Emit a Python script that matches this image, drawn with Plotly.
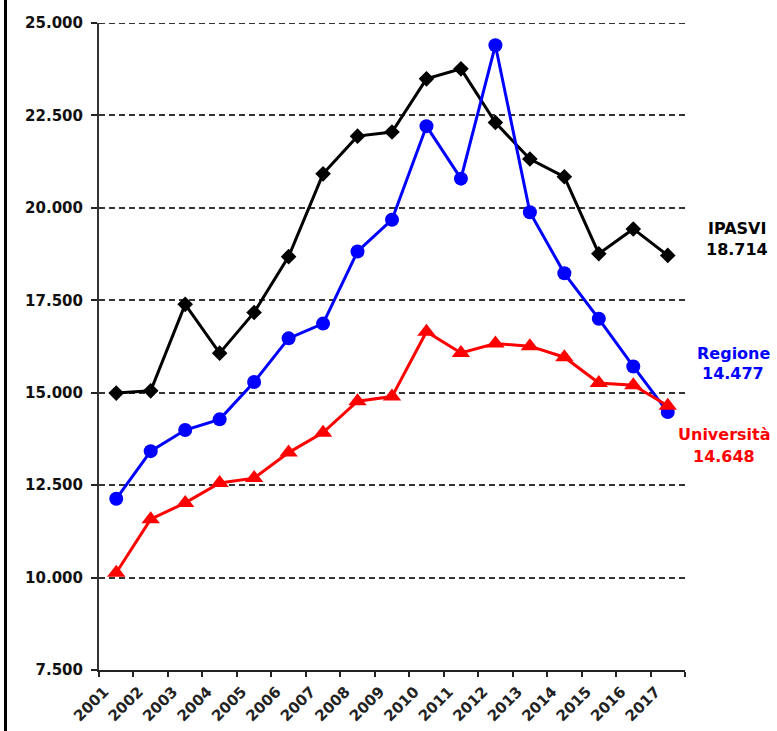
import plotly.graph_objects as go

years = [str(y) for y in range(2001, 2018)]
ipasvi = [14990, 15050, 17390, 16070, 17170, 18680, 20920, 21940, 22050, 23490,
          23760, 22310, 21320, 20840, 18760, 19430, 18714]
regione = [12130, 13420, 13990, 14280, 15290, 16470, 16870, 18820, 19680, 22210,
           20790, 24400, 19880, 18230, 17000, 15710, 14477]
universita = [10130, 11580, 12020, 12560, 12690, 13380, 13920, 14770, 14895, 16650,
              16075, 16330, 16260, 15960, 15265, 15200, 14648]

y_ticks = [7500, 10000, 12500, 15000, 17500, 20000, 22500, 25000]
y_tick_text = ["7.500", "10.000", "12.500", "15.000", "17.500", "20.000", "22.500", "25.000"]

end_labels = [
    ("IPASVI", "18.714", "#000000"),
    ("Regione", "14.477", "#0000FF"),
    ("Università", "14.648", "#FF0000"),
]

# the page body margin is removed below, so the figure starts at (0, 0)
W, H = 777, 731
L, R, T, B = 99, 92, 23, 61
pw, ph = W - L - R, H - T - B

def px_x(x):
    return (x - L) / pw

def px_y(y):
    return (H - B - y) / ph

fig = go.Figure()
fig.add_trace(go.Scatter(x=years, y=ipasvi, mode="lines+markers", name="IPASVI",
                         line=dict(color="#000000", width=3),
                         marker=dict(symbol="diamond", size=12, color="#000000")))
fig.add_trace(go.Scatter(x=years, y=regione, mode="lines+markers", name="Regione",
                         line=dict(color="#0000FF", width=3),
                         marker=dict(symbol="circle", size=14, color="#0000FF")))
fig.add_trace(go.Scatter(x=years, y=universita, mode="lines+markers", name="Università",
                         line=dict(color="#FF0000", width=3),
                         marker=dict(symbol="triangle-up", size=16, color="#FF0000")))

label_pos = [(737, 228, 249), (733, 354, 374), (724, 434, 456)]
annotations = []
for (name, val, col), (xc, y1, y2) in zip(end_labels, label_pos):
    for txt, yy in ((name, y1), (val, y2)):
        annotations.append(dict(x=px_x(xc), y=px_y(yy), xref="paper", yref="paper",
                                text="<b>%s</b>" % txt, showarrow=False,
                                xanchor="center", yanchor="middle",
                                font=dict(family="DejaVu Sans", size=16, color=col)))

fig.update_layout(
    width=W, height=H,
    margin=dict(l=L, r=R, t=T, b=B, pad=0, autoexpand=False),
    paper_bgcolor="white", plot_bgcolor="white",
    showlegend=False,
    annotations=annotations,
    shapes=[
        dict(type="line", xref="paper", yref="paper",
             x0=px_x(5.5), x1=px_x(5.5), y0=px_y(H + 5), y1=px_y(-5),
             line=dict(color="black", width=3)),
        dict(type="line", xref="paper", yref="y", x0=0, x1=1, y0=25000, y1=25000,
             line=dict(color="#333", width=2, dash="6px,4px")),
    ],
    xaxis=dict(type="category", range=[-0.5, 16.5], tickson="boundaries",
               ticks="outside", ticklen=5, tickcolor="#222", tickwidth=2,
               showline=True, linecolor="#222", linewidth=2, showgrid=False,
               tickangle=-45, ticklabelshift=-12, ticklabelstandoff=5, automargin=False,
               tickfont=dict(family="DejaVu Sans", size=15, color="#222", weight="bold")),
    yaxis=dict(range=[7500, 25000], tickvals=y_ticks, ticktext=["<b>%s</b>" % t for t in y_tick_text],
               ticks="outside", ticklen=6, tickcolor="#222", tickwidth=2,
               showline=True, linecolor="#333", linewidth=2,
               showgrid=True, gridcolor="#333", gridwidth=1.5, griddash="6px,4px",
               zeroline=False, ticklabelstandoff=5, automargin=False,
               tickfont=dict(family="DejaVu Sans", size=15, color="#111")),
)

fig.write_html("out.html", config={"displayModeBar": False},
               post_script="document.body.style.margin='0';document.body.style.padding='0';")
